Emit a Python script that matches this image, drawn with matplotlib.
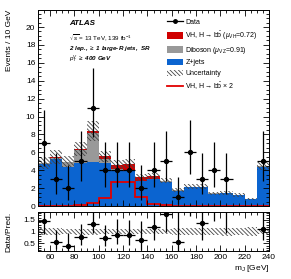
import numpy as np
import matplotlib
matplotlib.use("Agg")
import matplotlib.pyplot as plt
from matplotlib.patches import Patch
from matplotlib.lines import Line2D
from matplotlib.ticker import MultipleLocator

plt.rcParams['font.family'] = ['Liberation Sans', 'DejaVu Sans']
plt.rcParams['mathtext.fontset'] = 'custom'
plt.rcParams['mathtext.rm'] = 'Liberation Sans'
plt.rcParams['mathtext.it'] = 'Liberation Sans:italic'
plt.rcParams['mathtext.bf'] = 'Liberation Sans:bold'
plt.rcParams['hatch.linewidth'] = 0.6

# Binning (m_J, 10 GeV bins)
edges = np.arange(50, 250, 10)

# Stacked backgrounds / signal
zjets = [4.7, 5.3, 4.4, 4.8, 4.9, 4.8, 4.0, 3.9, 2.8, 3.0,
         2.7, 1.7, 2.1, 2.1, 1.35, 1.4, 1.2, 0.75, 4.4]
diboson = [0.1, 0.1, 0.5, 1.5, 3.3, 0.4, 0.1, 0.05, 0.05, 0.05,
           0.05, 0.05, 0.05, 0.05, 0.05, 0.05, 0.03, 0.03, 0.05]
vh = [0.02, 0.05, 0.05, 0.1, 0.15, 0.35, 0.5, 0.8, 0.35, 0.3,
      0.1, 0.05, 0.03, 0.02, 0.02, 0.02, 0.02, 0.02, 0.02]
unc = [0.7, 0.8, 0.6, 0.8, 1.1, 0.6, 0.5, 0.5, 0.35, 0.35,
       0.3, 0.25, 0.3, 0.3, 0.2, 0.25, 0.2, 0.15, 0.4]
vh_x2 = [0.05, 0.05, 0.05, 0.1, 0.3, 0.9, 2.7, 2.7, 1.05, 0.2,
         0.1, 0.05, 0.05, 0.05, 0.05, 0.05, 0.05, 0.05, 0.05]
data = [7, 3, 2, 5, 11, 4, 4, 4, 2, 4, 5, 1, 6, 3, 4, 3, 0, 0, 5]

c_z = '#0b64d0'
c_vz = '#999999'
c_vh = '#d00000'
hatch = '\\' * 8


def poisson_err(n):
    # Garwood 68% intervals, Wilson-Hilferty approximation of chi2
    n = np.asarray(n, dtype=float)
    k_up = 2 * (n + 1)
    up = k_up * (1 - 2 / (9 * k_up) + np.sqrt(2 / (9 * k_up))) ** 3 / 2
    k_lo = np.maximum(2 * n, 1e-9)
    lo = k_lo * (1 - 2 / (9 * k_lo) - np.sqrt(2 / (9 * k_lo))) ** 3 / 2
    lo = np.where(n > 0, lo, 0)
    return n - lo, up - n


zjets = np.array(zjets)
diboson = np.array(diboson)
vh = np.array(vh)
unc = np.array(unc)
data = np.array(data, dtype=float)
total = zjets + diboson + vh
centers = 0.5 * (edges[:-1] + edges[1:])
err_lo, err_hi = poisson_err(data)
has = data > 0

fig = plt.figure(figsize=(2.91, 2.79), dpi=100)
ax = fig.add_axes([0.1306, 0.2616, 0.7938, 0.7025])
rax = fig.add_axes([0.1306, 0.0986, 0.7938, 0.1398])

# Main panel
ax.stairs(zjets, edges, fill=True, color=c_z, linewidth=0)
ax.stairs(zjets + diboson, edges, baseline=zjets, fill=True, color=c_vz, linewidth=0)
ax.stairs(total, edges, baseline=zjets + diboson, fill=True, color=c_vh, linewidth=0)
ax.stairs(total + unc, edges, baseline=total - unc, fill=True, facecolor='none',
          edgecolor='#444444', hatch=hatch, linewidth=0)
ax.stairs(vh_x2, edges, color='#e00000', linewidth=1.3)
ax.errorbar(centers[has], data[has], xerr=5, yerr=[err_lo[has], err_hi[has]],
            fmt='o', color='black', ms=2.8, elinewidth=0.9, capsize=0)

ax.set_xlim(50, 240)
ax.set_ylim(0, 21.9)
ax.set_xticklabels([])
ax.set_ylabel('Events / 10 GeV', fontsize=6, loc='top')

tx = 0.134
ax.text(tx, 0.929, 'ATLAS', transform=ax.transAxes, fontsize=5.8,
        fontweight='bold', fontstyle='italic', va='center')
ax.text(tx, 0.857, r'$\sqrt{s}$ = 13 TeV, 139 fb$^{-1}$', transform=ax.transAxes,
        fontsize=4.5, va='center')
ax.text(tx, 0.806, r'2 lep., $\geq$ 1 large-R jets,  SR', transform=ax.transAxes,
        fontsize=4.5, fontweight='bold', fontstyle='italic', va='center')
ax.text(tx, 0.750, r'$p_{T}^{V}$ $\geq$ 400 GeV', transform=ax.transAxes,
        fontsize=4.5, fontweight='bold', fontstyle='italic', va='center')

handles = [
    Line2D([0], [0], color='black', marker='o', ms=2.5, lw=0.9),
    Patch(facecolor=c_vh, edgecolor='none'),
    Patch(facecolor=c_vz, edgecolor='none'),
    Patch(facecolor=c_z, edgecolor='none'),
    Patch(facecolor='white', edgecolor='#444444', hatch=hatch, linewidth=0),
    Line2D([0], [0], color='#e00000', lw=1.3),
]
labels = [
    'Data',
    r'VH, H$\rightarrow$b$\bar{\rm b}$ ($\mu_{\rm VH}$=0.72)',
    r'Diboson ($\mu_{\rm VZ}$=0.91)',
    'Z+jets',
    'Uncertainty',
    r'VH, H$\rightarrow$b$\bar{\rm b}$ $\times$ 2',
]
ax.legend(handles, labels, loc='upper left', bbox_to_anchor=(0.545, 0.975),
          frameon=False, fontsize=5, handlelength=2.2, handleheight=1.1,
          handletextpad=0.4, labelspacing=0.45, borderpad=0)

# Ratio panel
ratio = data / total
r_lo = err_lo / total
r_hi = err_hi / total
rax.stairs(1 + unc / total, edges, baseline=1 - unc / total, fill=True,
           facecolor='none', edgecolor='#444444', hatch=hatch, linewidth=0)
rax.errorbar(centers[has], ratio[has], xerr=5, yerr=[r_lo[has], r_hi[has]],
             fmt='o', color='black', ms=2.8, elinewidth=0.9, capsize=0)
rax.set_xlim(50, 240)
rax.set_ylim(0.15, 1.82)
rax.set_yticks([0.5, 1, 1.5])
rax.set_yticklabels(['0.5', '1', '1.5'])
rax.set_ylabel('Data/Pred.', fontsize=6)
rax.set_xlabel(r'm$_{\rm J}$ [GeV]', fontsize=6, loc='right', labelpad=1)

for a in (ax, rax):
    a.xaxis.set_major_locator(MultipleLocator(20))
    a.xaxis.set_minor_locator(MultipleLocator(5))
    a.tick_params(which='both', direction='in', top=True, right=True,
                  labelsize=6, width=0.6, pad=2)
    a.tick_params(which='major', length=4)
    a.tick_params(which='minor', length=2)
    for s in a.spines.values():
        s.set_linewidth(0.7)
ax.yaxis.set_major_locator(MultipleLocator(2))
ax.yaxis.set_minor_locator(MultipleLocator(0.5))
rax.yaxis.set_minor_locator(MultipleLocator(0.1))
ax.yaxis.set_label_coords(-0.11, 1.0)
rax.yaxis.set_label_coords(-0.11, 0.5)

fig.savefig('out.png', dpi=100)
